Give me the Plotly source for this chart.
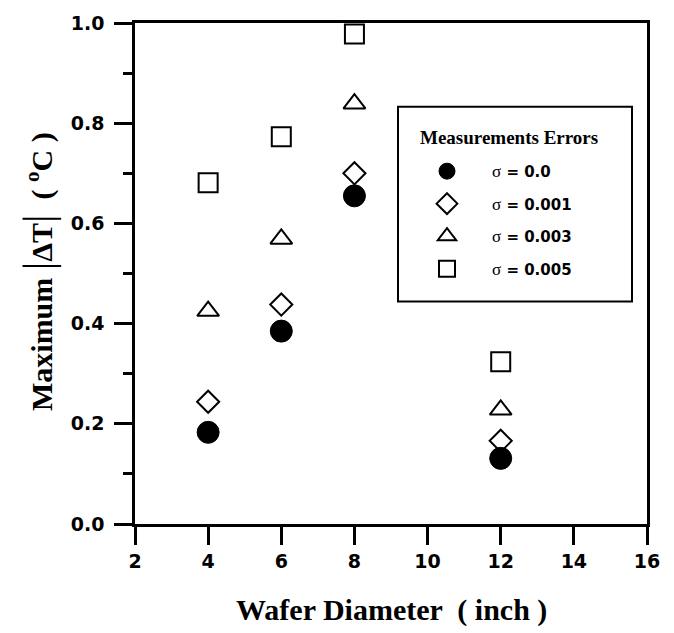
import plotly.graph_objects as go

# Wafer diameters (inch) and maximum |ΔT| (°C) for each measurement error level
diameters = [4, 6, 8, 12]
dt_sigma_0000 = [0.183, 0.385, 0.655, 0.131]
dt_sigma_0001 = [0.244, 0.438, 0.700, 0.166]
dt_sigma_0003 = [0.425, 0.569, 0.839, 0.228]
dt_sigma_0005 = [0.681, 0.773, 0.978, 0.324]

series_labels = ["σ = 0.0", "σ = 0.001", "σ = 0.003", "σ = 0.005"]
x_ticks = [2, 4, 6, 8, 10, 12, 14, 16]
y_ticks = [0.0, 0.2, 0.4, 0.6, 0.8, 1.0]

W, H = 674, 633
ML, MR, MT, MB = 135, 27, 15, 109
PW, PH = W - ML - MR, H - MT - MB


def px_x(p):
    return (p - ML) / PW


def px_y(p):
    return (H - MB - p) / PH


SERIF = "Liberation Serif"
SANS = "DejaVu Sans"

styles = [
    dict(symbol="circle", size=22, color="black", line=dict(color="black", width=1)),
    dict(symbol="diamond-open", size=17, color="black", line=dict(color="black", width=2)),
    dict(symbol="triangle-up-open", size=19, color="black", line=dict(color="black", width=2)),
    dict(symbol="square-open", size=19, color="black", line=dict(color="black", width=2)),
]

fig = go.Figure()
for i, (vals, lab, st) in enumerate(zip(
        [dt_sigma_0000, dt_sigma_0001, dt_sigma_0003, dt_sigma_0005], series_labels, styles)):
    name = (f"<span style=\"font-family:'{SERIF}';font-weight:normal;font-size:17px\">σ</span>"
            + lab[1:])
    fig.add_trace(go.Scatter(
        x=diameters, y=vals, mode="markers", name=name,
        legendgroup=f"g{i}", marker=st, cliponaxis=False,
    ))

tickfont = dict(family=SANS, size=19, color="black", weight="bold")
fig.update_xaxes(
    range=[2, 16], tickmode="array", tickvals=x_ticks,
    ticks="outside", ticklen=18, tickwidth=2.5, tickcolor="black",
    showline=True, linewidth=2.5, linecolor="black", mirror=True,
    showgrid=False, zeroline=False, tickfont=tickfont,
    ticklabelstandoff=0,
)
fig.update_yaxes(
    range=[0, 1], tickmode="array", tickvals=y_ticks, tickformat=".1f",
    ticks="outside", ticklen=18, tickwidth=2.5, tickcolor="black",
    minor=dict(dtick=0.1, ticks="outside", ticklen=9, tickwidth=2.5, tickcolor="black"),
    showline=True, linewidth=2.5, linecolor="black", mirror=True,
    showgrid=False, zeroline=False, tickfont=tickfont,
    ticklabelstandoff=6,
)

bar = "<span style=\"font-size:42px;font-weight:normal\">|</span>"
fig.add_annotation(
    xref="paper", yref="paper", x=px_x(38), y=px_y(268), xanchor="center", yanchor="middle",
    text=f"Maximum {bar}ΔT{bar}  ( <sup>o</sup>C )", textangle=-90, showarrow=False,
    font=dict(family=SERIF, size=30, color="black", weight="bold"),
)
fig.add_annotation(
    xref="paper", yref="paper", x=0.5, y=px_y(611), xanchor="center", yanchor="middle",
    text="Wafer Diameter  ( inch )", showarrow=False,
    font=dict(family=SERIF, size=30, color="black", weight="bold"),
)

# legend frame and heading
fig.add_shape(type="rect", xref="paper", yref="paper",
              x0=px_x(398), x1=px_x(632), y0=px_y(298), y1=px_y(100),
              line=dict(color="black", width=2), fillcolor="white", layer="below")
fig.add_annotation(
    xref="paper", yref="paper", x=px_x(418), y=px_y(131), xanchor="left", yanchor="middle",
    text="Measurements Errors", showarrow=False,
    font=dict(family=SERIF, size=19, color="black", weight="bold"),
)

fig.update_layout(
    width=W, height=H, autosize=False,
    margin=dict(l=ML, r=MR, t=MT, b=MB),
    paper_bgcolor="white", plot_bgcolor="white",
    showlegend=True,
    legend=dict(
        x=px_x(402), y=px_y(149), xanchor="left", yanchor="top",
        bgcolor="rgba(0,0,0,0)", borderwidth=0,
        font=dict(family=SANS, size=15, color="black", weight="bold"),
        itemwidth=80, tracegroupgap=10, traceorder="grouped",
        itemclick=False, itemdoubleclick=False,
    ),
)

fig.write_html("out.html")
